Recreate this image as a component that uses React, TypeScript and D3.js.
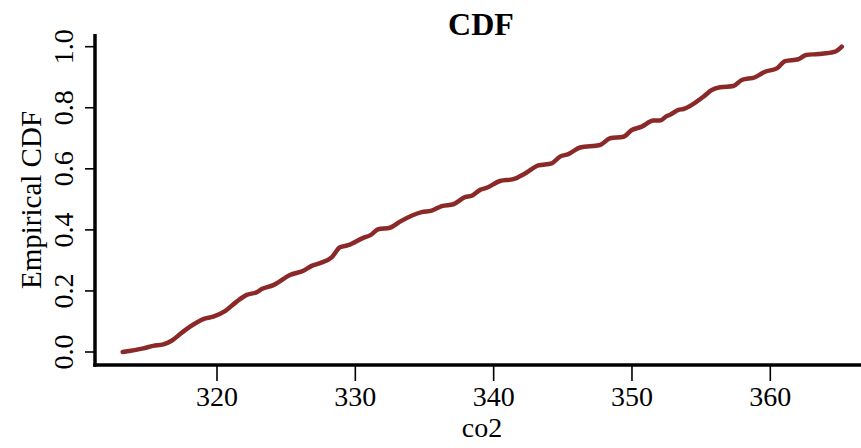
import React from "react";
import * as d3 from "d3";

const co2Values = [
  313.18, 314.67, 315.39, 316.12, 316.72, 317.45, 318.05, 319.01, 319.73, 320.58,
  321.42, 322.15, 322.87, 323.23, 324.07, 325.28, 326.24, 326.85, 327.45, 328.29,
  328.89, 329.49, 330.58, 331.06, 331.66, 332.51, 333.23, 334.8, 335.52, 336.25,
  337.09, 337.93, 338.42, 339.02, 339.5, 340.46, 341.42, 342.27, 343.23, 344.2,
  344.8, 345.4, 346.25, 347.69, 348.42, 349.38, 349.99, 350.71, 351.55, 352.03,
  352.52, 352.76, 353.36, 353.72, 355.16, 355.77, 356.37, 357.33, 357.94, 358.9,
  359.62, 360.47, 361.07, 362.03, 362.59, 363.48, 364.69, 365.17,
];
const cdfValues = [
  0.0, 0.012, 0.02, 0.025, 0.037, 0.063, 0.083, 0.108, 0.116, 0.134,
  0.165, 0.187, 0.196, 0.206, 0.219, 0.252, 0.266, 0.282, 0.291, 0.31,
  0.343, 0.35, 0.374, 0.382, 0.402, 0.407, 0.427, 0.458, 0.463, 0.478,
  0.484, 0.507, 0.512, 0.531, 0.538, 0.56, 0.566, 0.585, 0.611, 0.618,
  0.64, 0.648, 0.67, 0.678, 0.7, 0.705, 0.727, 0.738, 0.758, 0.758,
  0.773, 0.777, 0.793, 0.796, 0.836, 0.858, 0.867, 0.871, 0.891, 0.9,
  0.918, 0.929, 0.953, 0.959, 0.973, 0.976, 0.984, 1.0,
];
const xTicks = [320, 330, 340, 350, 360];
const yTicks = [0, 0.2, 0.4, 0.6, 0.8, 1.0];

const title = "CDF";
const xLabel = "co2";
const yLabel = "Empirical CDF";

export default function App() {
  const W = 861;
  const H = 448;
  const x = d3.scaleLinear().domain([320, 360]).range([217, 770.3]);
  const y = d3.scaleLinear().domain([0, 1]).range([352, 46.7]);
  const axisX = 95;
  const axisY = 365;
  const color = "#8B2828";
  const font = "'Liberation Serif', 'Times New Roman', serif";

  const pts: [number, number][] = co2Values.map((v, i) => [v, cdfValues[i]]);
  const line = d3
    .line<[number, number]>()
    .x((d) => x(d[0]))
    .y((d) => y(d[1]))
    .curve(d3.curveMonotoneX);

  return (
    <svg
      width={W}
      height={H}
      style={{ position: "absolute", left: 0, top: 0, background: "#fff" }}
      fontFamily={font}
    >
      <rect width={W} height={H} fill="#fff" />
      <text x={481} y={35} textAnchor="middle" fontSize={32} fontWeight="bold" fill="#000">
        {title}
      </text>
      <line x1={axisX} y1={34} x2={axisX} y2={axisY + 1.7} stroke="#000" strokeWidth={3.5} />
      <line x1={axisX - 1.7} y1={axisY} x2={W} y2={axisY} stroke="#000" strokeWidth={3.5} />
      {yTicks.map((t) => (
        <g key={"y" + t}>
          <line x1={85} x2={axisX} y1={y(t)} y2={y(t)} stroke="#000" strokeWidth={1.6} />
          <text
            transform={`translate(72.5,${y(t)}) rotate(-90)`}
            textAnchor="middle"
            fontSize={28}
            fill="#000"
          >
            {t.toFixed(1)}
          </text>
        </g>
      ))}
      {xTicks.map((t) => (
        <g key={"x" + t}>
          <line x1={x(t)} x2={x(t)} y1={axisY} y2={381} stroke="#000" strokeWidth={1.6} />
          <text x={x(t)} y={406} textAnchor="middle" fontSize={28} fill="#000">
            {t}
          </text>
        </g>
      ))}
      <text x={482} y={437} textAnchor="middle" fontSize={28} fill="#000">
        {xLabel}
      </text>
      <text
        transform={`translate(41,200) rotate(-90)`}
        textAnchor="middle"
        fontSize={29}
        fill="#000"
      >
        {yLabel}
      </text>
      <path
        d={line(pts) || ""}
        fill="none"
        stroke={color}
        strokeWidth={4.5}
        strokeLinecap="round"
        strokeLinejoin="round"
      />
    </svg>
  );
}
